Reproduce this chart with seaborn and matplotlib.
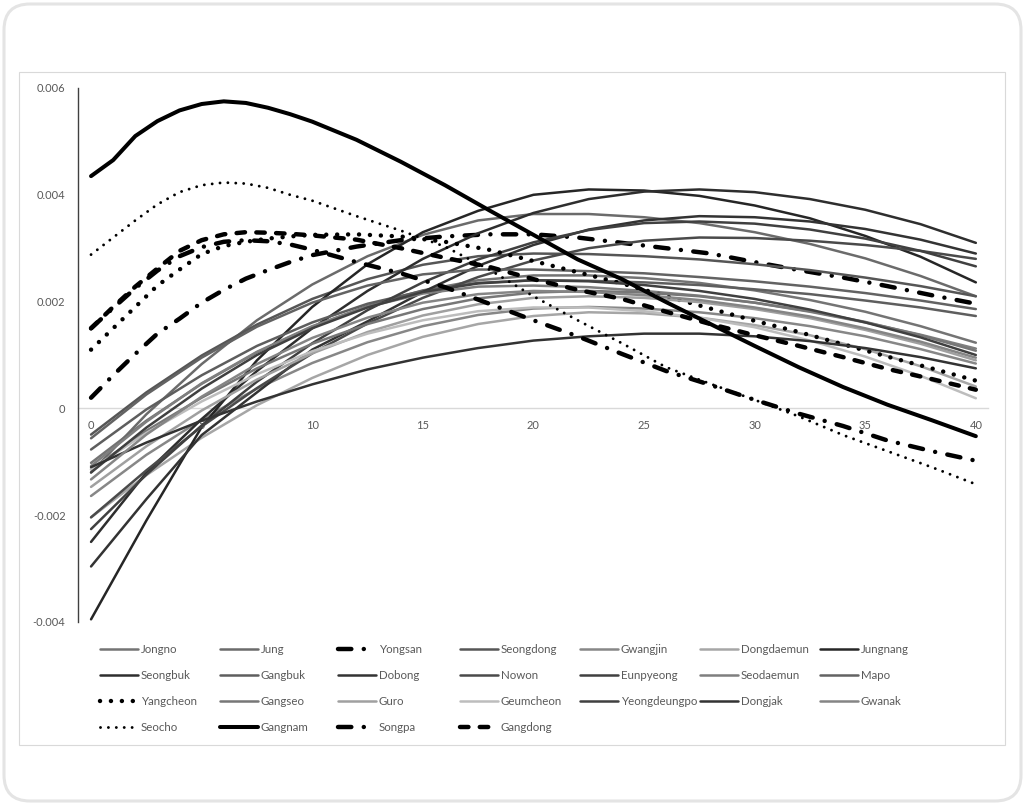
import matplotlib
matplotlib.use("Agg")
import matplotlib.pyplot as plt
import matplotlib.patches as mpatches
import matplotlib.transforms as mtransforms
import pandas as pd
import seaborn as sns

# x positions
x_fine = [0, 1, 2, 3, 4, 5, 6, 7, 8, 9, 10, 12, 14, 16, 18, 20, 22, 24, 26, 28, 30, 32, 34, 36, 38, 40]
x_gray = [0, 2.5, 5, 7.5, 10, 12.5, 15, 17.5, 20, 22.5, 25, 27.5, 30, 32.5, 35, 37.5, 40]

# highlighted districts (x_fine)
yongsan = [0.0002, 0.00062, 0.00102, 0.0014, 0.00168, 0.00198, 0.00222, 0.00243, 0.00259, 0.00274, 0.00287,
           0.00303, 0.00315, 0.00322, 0.00326, 0.00326, 0.0032, 0.0031, 0.003, 0.0029, 0.00274, 0.00259,
           0.00245, 0.00229, 0.00212, 0.00196]
yangcheon = [0.0011, 0.0015, 0.0019, 0.0023, 0.0026, 0.00289, 0.00304, 0.00312, 0.00318, 0.00322, 0.00325,
             0.00326, 0.00322, 0.00312, 0.00297, 0.00276, 0.00255, 0.00234, 0.0021, 0.00187, 0.00164, 0.00143,
             0.0012, 0.00097, 0.00075, 0.00052]
seocho = [0.00288, 0.0032, 0.00352, 0.00382, 0.00405, 0.00418, 0.00423, 0.00421, 0.00413, 0.004, 0.00389,
          0.0036, 0.00333, 0.00303, 0.0026, 0.0021, 0.00165, 0.00122, 0.00077, 0.00046, 0.00016, -0.00015,
          -0.0005, -0.0008, -0.0011, -0.00142]
gangnam = [0.00435, 0.00465, 0.0051, 0.00538, 0.00558, 0.0057, 0.00575, 0.00572, 0.00563, 0.00551, 0.00537,
           0.00503, 0.00462, 0.00418, 0.00371, 0.00325, 0.00279, 0.00242, 0.00199, 0.00158, 0.00117, 0.00077,
           0.0004, 0.00007, -0.00022, -0.00052]
songpa = [0.0015, 0.00188, 0.00225, 0.00258, 0.00285, 0.00302, 0.00312, 0.00315, 0.00313, 0.00307, 0.00297,
          0.00274, 0.00253, 0.00227, 0.00196, 0.00165, 0.00135, 0.00102, 0.0007, 0.00044, 0.00016, -0.0001,
          -0.00033, -0.0006, -0.0008, -0.00098]
gangdong = [0.0015, 0.0019, 0.00228, 0.00262, 0.00295, 0.00315, 0.00326, 0.0033, 0.00329, 0.00327, 0.00324,
            0.00316, 0.003, 0.00282, 0.00265, 0.00242, 0.00222, 0.00205, 0.00181, 0.00158, 0.00137, 0.00117,
            0.00096, 0.00074, 0.00055, 0.00035]

# grey districts (x_gray)
jongno = [-0.00102, -0.00023, 0.00046, 0.00105, 0.00153, 0.00192, 0.00221, 0.0024, 0.00249, 0.00249, 0.00244,
          0.00235, 0.00221, 0.00203, 0.00181, 0.00154, 0.00123]
jung = [-0.0012, -0.00011, 0.00083, 0.00165, 0.00232, 0.00285, 0.00325, 0.00352, 0.00364, 0.00364, 0.00358,
        0.00347, 0.0033, 0.00308, 0.00281, 0.00248, 0.0021]
seongdong = [-0.00049, 0.0003, 0.00099, 0.00157, 0.00205, 0.00242, 0.00269, 0.00285, 0.0029, 0.00289, 0.00285,
             0.00279, 0.0027, 0.00259, 0.00245, 0.00229, 0.0021]
gwangjin = [-0.00164, -0.00087, -0.00021, 0.00037, 0.00085, 0.00124, 0.00154, 0.00175, 0.00187, 0.0019, 0.00187,
            0.0018, 0.00169, 0.00154, 0.00135, 0.00111, 0.00084]
dongdaemun = [-0.00204, -0.00125, -0.00055, 0.00006, 0.00057, 0.001, 0.00134, 0.00158, 0.00173, 0.0018, 0.00178,
              0.0017, 0.00156, 0.00137, 0.00111, 0.00079, 0.00041]
jungnang = [-0.00395, -0.0021, -0.00035, 0.0009, 0.0019, 0.0027, 0.0033, 0.0037, 0.004, 0.0041, 0.00408,
            0.00398, 0.0038, 0.00356, 0.00323, 0.00284, 0.00236]
seongbuk = [-0.0025, -0.0012, -0.0002, 0.0007, 0.0015, 0.0022, 0.0028, 0.00328, 0.00366, 0.00392, 0.00406,
            0.0041, 0.00405, 0.00392, 0.00372, 0.00345, 0.0031]
gangbuk = [-0.00077, -0.00002, 0.00062, 0.00117, 0.00161, 0.00196, 0.0022, 0.00235, 0.0024, 0.00239, 0.00236,
           0.00231, 0.00223, 0.00214, 0.00202, 0.00189, 0.00173]
dobong = [-0.00296, -0.0017, -0.0005, 0.0003, 0.0011, 0.00163, 0.00218, 0.00267, 0.00306, 0.00335, 0.00352,
          0.0036, 0.00358, 0.0035, 0.00336, 0.00316, 0.0029]
nowon = [-0.00204, -0.00116, -0.00034, 0.00038, 0.00103, 0.00159, 0.00207, 0.00246, 0.00277, 0.003, 0.00314,
         0.0032, 0.00319, 0.00314, 0.00306, 0.00295, 0.0028]
eunpyeong = [-0.00226, -0.00124, -0.00032, 0.0005, 0.00122, 0.00184, 0.00236, 0.00279, 0.00311, 0.00334, 0.00347,
             0.0035, 0.00346, 0.00335, 0.00318, 0.00295, 0.00266]
seodaemun = [-0.00108, -0.00025, 0.00047, 0.00106, 0.00154, 0.0019, 0.00215, 0.00228, 0.0023, 0.00227, 0.0022,
             0.00211, 0.00198, 0.00181, 0.00161, 0.00138, 0.00112]
mapo = [-0.00056, 0.00026, 0.00095, 0.00153, 0.00198, 0.0023, 0.00251, 0.0026, 0.0026, 0.00257, 0.00253,
        0.00246, 0.00238, 0.00228, 0.00216, 0.00202, 0.00186]
gangseo = [-0.00114, -0.00042, 0.0002, 0.00075, 0.00121, 0.00158, 0.00186, 0.00206, 0.00217, 0.0022, 0.00217,
           0.0021, 0.00198, 0.00182, 0.00162, 0.00137, 0.00108]
guro = [-0.00147, -0.00071, -0.00004, 0.00054, 0.00103, 0.00143, 0.00174, 0.00195, 0.00207, 0.0021, 0.00207,
        0.00199, 0.00186, 0.00169, 0.00147, 0.00121, 0.0009]
geumcheon = [-0.00114, -0.00046, 0.00013, 0.00064, 0.00107, 0.0014, 0.00165, 0.00182, 0.00189, 0.00189, 0.00182,
             0.0017, 0.00152, 0.00127, 0.00097, 0.00061, 0.00019]
yeongdeungpo = [-0.0012, -0.00036, 0.00037, 0.001, 0.0015, 0.00189, 0.00218, 0.00234, 0.0024, 0.00238, 0.00231,
                0.0022, 0.00205, 0.00185, 0.00161, 0.00133, 0.001]
dongjak = [-0.0011, -0.00064, -0.00023, 0.00013, 0.00045, 0.00073, 0.00095, 0.00113, 0.00127, 0.00135, 0.0014,
           0.0014, 0.00135, 0.00126, 0.00113, 0.00096, 0.00075]
gwanak = [-0.00133, -0.00049, 0.00022, 0.00083, 0.00132, 0.0017, 0.00198, 0.00214, 0.0022, 0.00218, 0.00212,
          0.00203, 0.00189, 0.00172, 0.0015, 0.00125, 0.00095]

x_ticks = [0, 5, 10, 15, 20, 25, 30, 35, 40]
y_ticks = [-0.004, -0.002, 0, 0.002, 0.004, 0.006]
y_tick_labels = ["-0.004", "-0.002", "0", "0.002", "0.004", "0.006"]

districts = ["Jongno", "Jung", "Yongsan", "Seongdong", "Gwangjin", "Dongdaemun", "Jungnang",
             "Seongbuk", "Gangbuk", "Dobong", "Nowon", "Eunpyeong", "Seodaemun", "Mapo",
             "Yangcheon", "Gangseo", "Guro", "Geumcheon", "Yeongdeungpo", "Dongjak", "Gwanak",
             "Seocho", "Gangnam", "Songpa", "Gangdong"]
values = {
    "Jongno": jongno, "Jung": jung, "Yongsan": yongsan, "Seongdong": seongdong, "Gwangjin": gwangjin,
    "Dongdaemun": dongdaemun, "Jungnang": jungnang, "Seongbuk": seongbuk, "Gangbuk": gangbuk,
    "Dobong": dobong, "Nowon": nowon, "Eunpyeong": eunpyeong, "Seodaemun": seodaemun, "Mapo": mapo,
    "Yangcheon": yangcheon, "Gangseo": gangseo, "Guro": guro, "Geumcheon": geumcheon,
    "Yeongdeungpo": yeongdeungpo, "Dongjak": dongjak, "Gwanak": gwanak, "Seocho": seocho,
    "Gangnam": gangnam, "Songpa": songpa, "Gangdong": gangdong,
}

rows = []
for name in districts:
    xs = x_fine if len(values[name]) == len(x_fine) else x_gray
    for xv, yv in zip(xs, values[name]):
        rows.append((name, xv, yv))
df = pd.DataFrame(rows, columns=["district", "x", "value"])

# styles
grey_colors = {
    "Jongno": "#747474", "Jung": "#6b6b6b", "Seongdong": "#565656", "Gwangjin": "#878787",
    "Dongdaemun": "#a6a6a6", "Jungnang": "#262626", "Seongbuk": "#2e2e2e", "Gangbuk": "#5e5e5e",
    "Dobong": "#333333", "Nowon": "#4a4a4a", "Eunpyeong": "#404040", "Seodaemun": "#7f7f7f",
    "Mapo": "#636363", "Gangseo": "#777777", "Guro": "#a0a0a0", "Geumcheon": "#bdbdbd",
    "Yeongdeungpo": "#404040", "Dongjak": "#333333", "Gwanak": "#858585",
}
dashdot = (0, (3.0, 2.8, 0.01, 2.8))
special = {
    "Yongsan": dict(color="black", lw=3.2, ls=dashdot),
    "Songpa": dict(color="black", lw=3.2, ls=dashdot),
    "Yangcheon": dict(color="black", lw=3.2, ls=(0, (0.01, 2.45))),
    "Seocho": dict(color="black", lw=2.1, ls=(0, (0.01, 2.7))),
    "Gangnam": dict(color="black", lw=2.9, ls="-"),
    "Gangdong": dict(color="black", lw=3.2, ls=(0, (1.9, 2.55))),
}

sns.set_style("white")
plt.rcParams["font.family"] = ["Lato", "DejaVu Sans"]

fig = plt.figure(figsize=(10.25, 8.05), dpi=100)
ax = fig.add_axes([78 / 1025, 1 - 622 / 805, 910 / 1025, 534 / 805])

handles = {}
for name in districts:
    sub = df[df["district"] == name]
    if name in special:
        st = special[name]
        sns.lineplot(data=sub, x="x", y="value", ax=ax, color=st["color"], linewidth=st["lw"],
                     linestyle=st["ls"], dash_capstyle="round", solid_capstyle="round",
                     errorbar=None, legend=False)
    else:
        sns.lineplot(data=sub, x="x", y="value", ax=ax, color=grey_colors[name], linewidth=1.8,
                     solid_capstyle="round", solid_joinstyle="round", errorbar=None, legend=False)
    handles[name] = ax.lines[-1]

ax.set_xlim(-0.59, 40.55)
ax.set_ylim(-0.004, 0.006)
ax.set_xlabel("")
ax.set_ylabel("")
ax.set_xticks(x_ticks)
ax.set_xticklabels([str(v) for v in x_ticks])
ax.set_yticks(y_ticks)
ax.set_yticklabels(y_tick_labels)
ax.tick_params(axis="both", length=0, labelsize=8, labelcolor="#595959")
ax.tick_params(axis="x", pad=8)
ax.tick_params(axis="y", pad=9)
ax.grid(False)
for s in ["top", "right"]:
    ax.spines[s].set_visible(False)
ax.spines["bottom"].set_position(("data", 0))
ax.spines["bottom"].set_color("#d9d9d9")
ax.spines["bottom"].set_linewidth(1.0)
ax.spines["bottom"].set_zorder(0)
ax.spines["left"].set_color("#404040")
ax.spines["left"].set_linewidth(1.0)

# legend: one block per column, rows like the Excel legend
col_x = [100, 220, 338, 460, 580, 700, 820]
for j in range(7):
    names = districts[j::7]
    leg = fig.legend([handles[n] for n in names], names, loc="upper left",
                     bbox_to_anchor=(col_x[j] / 1025, 1 - 644 / 805), frameon=False,
                     fontsize=8.3, handlelength=3.3, handletextpad=0.25, labelspacing=1.3,
                     borderpad=0, borderaxespad=0)
    for t in leg.get_texts():
        t.set_color("#595959")

# chart frame and outer rounded card
ident = mtransforms.IdentityTransform()
fig.add_artist(mpatches.Rectangle((19, 60), 986, 673, transform=ident, fill=False,
                                  ec="#d9d9d9", lw=0.8))
fig.add_artist(mpatches.FancyBboxPatch((4, 4), 1017, 797, boxstyle="round,pad=0,rounding_size=26",
                                       transform=ident, fill=False, ec="#e4e4e4", lw=2.2))

fig.savefig("out.png", dpi=100)
